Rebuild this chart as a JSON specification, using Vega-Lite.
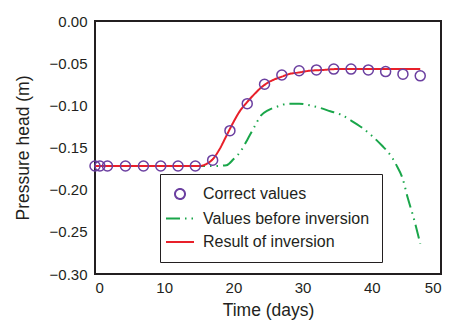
{
  "$schema": "https://vega.github.io/schema/vega-lite/v6.json",
  "width": 346,
  "height": 253,
  "autosize": "none",
  "padding": {"left": 95, "top": 21, "right": 9, "bottom": 48},
  "background": "white",
  "config": {
    "font": "Liberation Sans",
    "view": {"stroke": "#231f20", "strokeWidth": 2, "strokeOpacity": 1},
    "axis": {
      "grid": false, "ticks": false, "domain": false,
      "labelFont": "Liberation Sans", "labelFontSize": 15, "labelColor": "#231f20",
      "titleFont": "Liberation Sans", "titleFontSize": 17.5, "titleFontWeight": "normal", "titleColor": "#231f20"
    },
    "legend": {
      "labelFont": "Liberation Sans", "labelFontSize": 16, "labelColor": "#231f20", "labelLimit": 400
    }
  },
  "data": {
    "values": [
      {"t": 0, "v": -0.172, "s": "Correct values"},
      {"t": 0.7, "v": -0.172, "s": "Correct values"},
      {"t": 1.8, "v": -0.172, "s": "Correct values"},
      {"t": 4.4, "v": -0.172, "s": "Correct values"},
      {"t": 7, "v": -0.172, "s": "Correct values"},
      {"t": 9.5, "v": -0.172, "s": "Correct values"},
      {"t": 12, "v": -0.172, "s": "Correct values"},
      {"t": 14.5, "v": -0.172, "s": "Correct values"},
      {"t": 17, "v": -0.165, "s": "Correct values"},
      {"t": 19.5, "v": -0.130, "s": "Correct values"},
      {"t": 22, "v": -0.098, "s": "Correct values"},
      {"t": 24.5, "v": -0.075, "s": "Correct values"},
      {"t": 27, "v": -0.064, "s": "Correct values"},
      {"t": 29.5, "v": -0.059, "s": "Correct values"},
      {"t": 32, "v": -0.058, "s": "Correct values"},
      {"t": 34.5, "v": -0.057, "s": "Correct values"},
      {"t": 37, "v": -0.057, "s": "Correct values"},
      {"t": 39.5, "v": -0.058, "s": "Correct values"},
      {"t": 42, "v": -0.060, "s": "Correct values"},
      {"t": 44.5, "v": -0.063, "s": "Correct values"},
      {"t": 47, "v": -0.065, "s": "Correct values"},

      {"t": 0, "v": -0.172, "s": "Values before inversion"},
      {"t": 10, "v": -0.172, "s": "Values before inversion"},
      {"t": 17, "v": -0.172, "s": "Values before inversion"},
      {"t": 19, "v": -0.171, "s": "Values before inversion"},
      {"t": 20, "v": -0.164, "s": "Values before inversion"},
      {"t": 21, "v": -0.155, "s": "Values before inversion"},
      {"t": 22, "v": -0.141, "s": "Values before inversion"},
      {"t": 23, "v": -0.126, "s": "Values before inversion"},
      {"t": 24, "v": -0.112, "s": "Values before inversion"},
      {"t": 25, "v": -0.106, "s": "Values before inversion"},
      {"t": 26.5, "v": -0.101, "s": "Values before inversion"},
      {"t": 28, "v": -0.098, "s": "Values before inversion"},
      {"t": 29.5, "v": -0.098, "s": "Values before inversion"},
      {"t": 31, "v": -0.100, "s": "Values before inversion"},
      {"t": 32.5, "v": -0.103, "s": "Values before inversion"},
      {"t": 34, "v": -0.107, "s": "Values before inversion"},
      {"t": 35.5, "v": -0.111, "s": "Values before inversion"},
      {"t": 37, "v": -0.118, "s": "Values before inversion"},
      {"t": 38.5, "v": -0.126, "s": "Values before inversion"},
      {"t": 40, "v": -0.136, "s": "Values before inversion"},
      {"t": 41.5, "v": -0.148, "s": "Values before inversion"},
      {"t": 42.5, "v": -0.157, "s": "Values before inversion"},
      {"t": 43.5, "v": -0.170, "s": "Values before inversion"},
      {"t": 44.5, "v": -0.188, "s": "Values before inversion"},
      {"t": 45.2, "v": -0.210, "s": "Values before inversion"},
      {"t": 46, "v": -0.232, "s": "Values before inversion"},
      {"t": 47, "v": -0.264, "s": "Values before inversion"},

      {"t": 0, "v": -0.172, "s": "Result of inversion"},
      {"t": 15, "v": -0.172, "s": "Result of inversion"},
      {"t": 16, "v": -0.170, "s": "Result of inversion"},
      {"t": 17, "v": -0.164, "s": "Result of inversion"},
      {"t": 18, "v": -0.152, "s": "Result of inversion"},
      {"t": 19, "v": -0.136, "s": "Result of inversion"},
      {"t": 20, "v": -0.120, "s": "Result of inversion"},
      {"t": 21, "v": -0.106, "s": "Result of inversion"},
      {"t": 22, "v": -0.096, "s": "Result of inversion"},
      {"t": 23, "v": -0.087, "s": "Result of inversion"},
      {"t": 24, "v": -0.079, "s": "Result of inversion"},
      {"t": 25, "v": -0.073, "s": "Result of inversion"},
      {"t": 26, "v": -0.069, "s": "Result of inversion"},
      {"t": 27, "v": -0.066, "s": "Result of inversion"},
      {"t": 28, "v": -0.063, "s": "Result of inversion"},
      {"t": 29.5, "v": -0.061, "s": "Result of inversion"},
      {"t": 31, "v": -0.059, "s": "Result of inversion"},
      {"t": 33, "v": -0.058, "s": "Result of inversion"},
      {"t": 35, "v": -0.057, "s": "Result of inversion"},
      {"t": 40, "v": -0.057, "s": "Result of inversion"},
      {"t": 47, "v": -0.057, "s": "Result of inversion"}
    ]
  },
  "encoding": {
    "x": {
      "field": "t", "type": "quantitative",
      "scale": {"domain": [0, 50], "nice": false, "zero": false},
      "axis": {"title": "Time (days)", "values": [0, 10, 20, 30, 40, 50], "labelPadding": 6, "titlePadding": 6}
    },
    "y": {
      "field": "v", "type": "quantitative",
      "scale": {"domain": [-0.3, 0], "nice": false, "zero": false},
      "axis": {"title": "Pressure head (m)", "values": [0, -0.05, -0.1, -0.15, -0.2, -0.25, -0.3], "format": ".2f", "labelPadding": 8, "titlePadding": 17}
    },
    "color": {
      "field": "s", "type": "nominal",
      "scale": {"domain": ["Correct values", "Values before inversion", "Result of inversion"], "range": ["#6b3fa0", "#1aa64a", "#e8202a"]},
      "legend": {
        "title": null, "orient": "none", "legendX": 65, "legendY": 153,
        "strokeColor": "#231f20", "fillColor": "white", "padding": 12,
        "labelOffset": 15, "rowPadding": 7.5, "symbolSize": 100, "symbolStrokeWidth": 2
      }
    }
  },
  "layer": [
    {
      "transform": [{"filter": "datum.s !== 'Correct values'"}],
      "mark": {"type": "line", "strokeWidth": 2, "interpolate": "monotone"},
      "encoding": {
        "strokeDash": {
          "field": "s", "type": "nominal",
          "scale": {"domain": ["Correct values", "Values before inversion", "Result of inversion"], "range": [[1, 0], [14, 5, 1.5, 5, 1.5, 5], [1, 0]]},
          "legend": {"title": null}
        }
      }
    },
    {
      "transform": [{"filter": "datum.s === 'Correct values'"}],
      "mark": {"type": "point", "filled": false, "size": 100, "strokeWidth": 1.5, "opacity": 1},
      "encoding": {
        "shape": {
          "field": "s", "type": "nominal",
          "scale": {"domain": ["Correct values", "Values before inversion", "Result of inversion"], "range": ["circle", "M-2.8,0H2.8", "M-2.8,0H2.8"]},
          "legend": {"title": null}
        }
      }
    }
  ]
}
